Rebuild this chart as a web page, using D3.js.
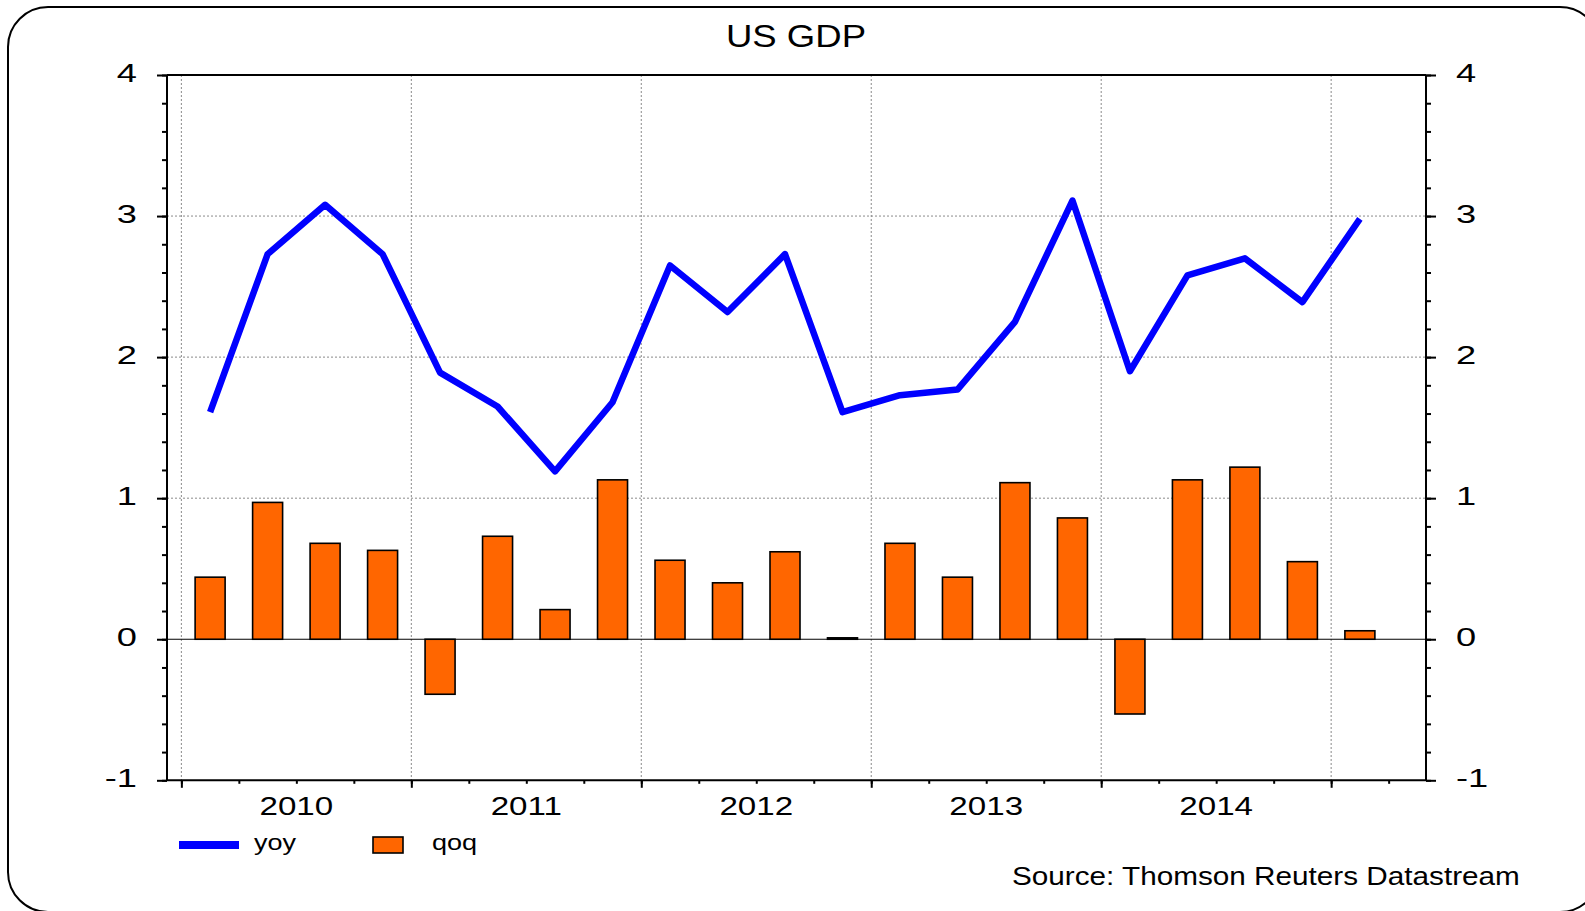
<!DOCTYPE html>
<html>
<head>
<meta charset="utf-8">
<script src="https://cdn.jsdelivr.net/npm/d3@7"></script>
<style>
  html, body { margin: 0; padding: 0; background: #fff; }
  svg { display: block; }
  text { font-family: "Liberation Sans", Arial, sans-serif; fill: #000; }
</style>
</head>
<body>
<svg id="chart" width="1585" height="911"></svg>
<script>
// ---- data ----
const quarters = ["2010Q1","2010Q2","2010Q3","2010Q4","2011Q1","2011Q2","2011Q3","2011Q4",
                  "2012Q1","2012Q2","2012Q3","2012Q4","2013Q1","2013Q2","2013Q3","2013Q4",
                  "2014Q1","2014Q2","2014Q3","2014Q4","2015Q1"];
const yoy = [1.61, 2.73, 3.08, 2.73, 1.89, 1.65, 1.19, 1.68, 2.65, 2.32, 2.73, 1.61,
             1.73, 1.77, 2.25, 3.11, 1.90, 2.58, 2.70, 2.39, 2.98];
const qoq = [0.44, 0.97, 0.68, 0.63, -0.39, 0.73, 0.21, 1.13, 0.56, 0.40, 0.62, 0.01,
             0.68, 0.44, 1.11, 0.86, -0.53, 1.13, 1.22, 0.55, 0.06];
const years = ["2010","2011","2012","2013","2014"];
const yTicks = [-1, 0, 1, 2, 3, 4];
const title = "US GDP";
const source = "Source: Thomson Reuters Datastream";
const seriesNames = ["yoy", "qoq"];

// ---- layout ----
const svg = d3.select("#chart");
const L = 167, R = 1426, T = 75, B = 780.3;
const x = d3.scaleLinear().domain([-0.25, 21.65]).range([L, R]);
const y = d3.scaleLinear().domain([-1, 4]).range([B, T]);
const blue = "#0000ff", orange = "#ff6600";

// outer rounded frame
svg.append("rect").attr("x", 8).attr("y", 7).attr("width", 1592).attr("height", 905)
  .attr("rx", 40).attr("ry", 40).attr("fill", "none").attr("stroke", "#000").attr("stroke-width", 2);

// title
svg.append("text").attr("text-anchor", "middle").attr("font-size", 31.5)
  .attr("transform", "translate(796,47) scale(1.16,1)").text(title);

// gridlines
const grid = svg.append("g");
grid.selectAll("line.h").data([1, 2, 3]).join("line")
  .attr("x1", L).attr("x2", R).attr("y1", d => y(d)).attr("y2", d => y(d))
  .attr("stroke", "#8a8a8a").attr("stroke-width", 1).attr("stroke-dasharray", "2,2");
const majorQ = d3.range(0, 22, 4);
grid.selectAll("line.v").data(majorQ).join("line")
  .attr("x1", d => x(d)).attr("x2", d => x(d)).attr("y1", T).attr("y2", B)
  .attr("stroke", "#8a8a8a").attr("stroke-width", 1).attr("stroke-dasharray", "2,2");

// zero line
svg.append("line").attr("x1", L).attr("x2", R).attr("y1", y(0)).attr("y2", y(0))
  .attr("stroke", "#000").attr("stroke-width", 1.2);

// bars
const bw = 30;
svg.append("g").selectAll("rect").data(qoq).join("rect")
  .attr("x", (d, i) => x(i + 0.5) - bw / 2)
  .attr("width", bw)
  .attr("y", d => Math.min(y(d), y(0)))
  .attr("height", d => Math.abs(y(d) - y(0)))
  .attr("fill", orange).attr("stroke", "#000").attr("stroke-width", 1.6);

// line
svg.append("path").datum(yoy)
  .attr("d", d3.line().x((d, i) => x(i + 0.5)).y(d => y(d)))
  .attr("fill", "none").attr("stroke", blue).attr("stroke-width", 6.5)
  .attr("stroke-linejoin", "round");

// frame lines
const frame = svg.append("g").attr("stroke", "#000").attr("stroke-width", 2).attr("fill", "none");
frame.append("line").attr("x1", L).attr("x2", L).attr("y1", T).attr("y2", B);
frame.append("line").attr("x1", R).attr("x2", R).attr("y1", T).attr("y2", B);
frame.append("line").attr("x1", L).attr("x2", R).attr("y1", T).attr("y2", T);
frame.append("line").attr("x1", L).attr("x2", R).attr("y1", B).attr("y2", B);

// y axes: minor + major ticks
const minorY = d3.range(-1, 4.001, 0.2);
function styleAxis(g) {
  g.select(".domain").remove();
  g.selectAll(".tick line").attr("stroke", "#000").attr("stroke-width", 2);
  g.selectAll(".tick text").remove();
}
svg.append("g").attr("transform", `translate(${L},0)`)
  .call(d3.axisLeft(y).tickValues(minorY).tickSize(5).tickFormat("")).call(styleAxis);
svg.append("g").attr("transform", `translate(${L},0)`)
  .call(d3.axisLeft(y).tickValues(yTicks).tickSize(10).tickFormat("")).call(styleAxis);
svg.append("g").attr("transform", `translate(${R},0)`)
  .call(d3.axisRight(y).tickValues(minorY).tickSize(5).tickFormat("")).call(styleAxis);
svg.append("g").attr("transform", `translate(${R},0)`)
  .call(d3.axisRight(y).tickValues(yTicks).tickSize(10).tickFormat("")).call(styleAxis);

// y labels
svg.append("g").selectAll("text").data(yTicks).join("text")
  .attr("text-anchor", "end").attr("font-size", 25)
  .attr("transform", d => `translate(137,${y(d) + 7}) scale(1.45,1)`)
  .text(d => d);
svg.append("g").selectAll("text").data(yTicks).join("text")
  .attr("text-anchor", "start").attr("font-size", 25)
  .attr("transform", d => `translate(1456,${y(d) + 7}) scale(1.45,1)`)
  .text(d => d);

// x axis ticks
svg.append("g").attr("transform", `translate(0,${B})`)
  .call(d3.axisBottom(x).tickValues(d3.range(0, 22)).tickSize(3.5).tickFormat("")).call(styleAxis);
svg.append("g").attr("transform", `translate(0,${B})`)
  .call(d3.axisBottom(x).tickValues(majorQ).tickSize(7.5).tickFormat("")).call(styleAxis);

// year labels
svg.append("g").selectAll("text").data(years).join("text")
  .attr("text-anchor", "middle").attr("font-size", 25.5)
  .attr("transform", (d, i) => `translate(${x(i * 4 + 2)},815) scale(1.3,1)`)
  .text(d => d);

// legend
const lg = svg.append("g");
lg.append("line").attr("x1", 179).attr("x2", 239).attr("y1", 845).attr("y2", 845)
  .attr("stroke", blue).attr("stroke-width", 8);
lg.append("text").attr("font-size", 22.5)
  .attr("transform", "translate(254,850) scale(1.2,1)").text(seriesNames[0]);
lg.append("rect").attr("x", 373).attr("y", 837).attr("width", 30).attr("height", 16)
  .attr("fill", orange).attr("stroke", "#000").attr("stroke-width", 1.6);
lg.append("text").attr("font-size", 22.5)
  .attr("transform", "translate(432,850) scale(1.2,1)").text(seriesNames[1]);

// source
svg.append("text").attr("font-size", 25.5)
  .attr("transform", "translate(1012,885) scale(1.165,1)").text(source);
</script>
</body>
</html>
